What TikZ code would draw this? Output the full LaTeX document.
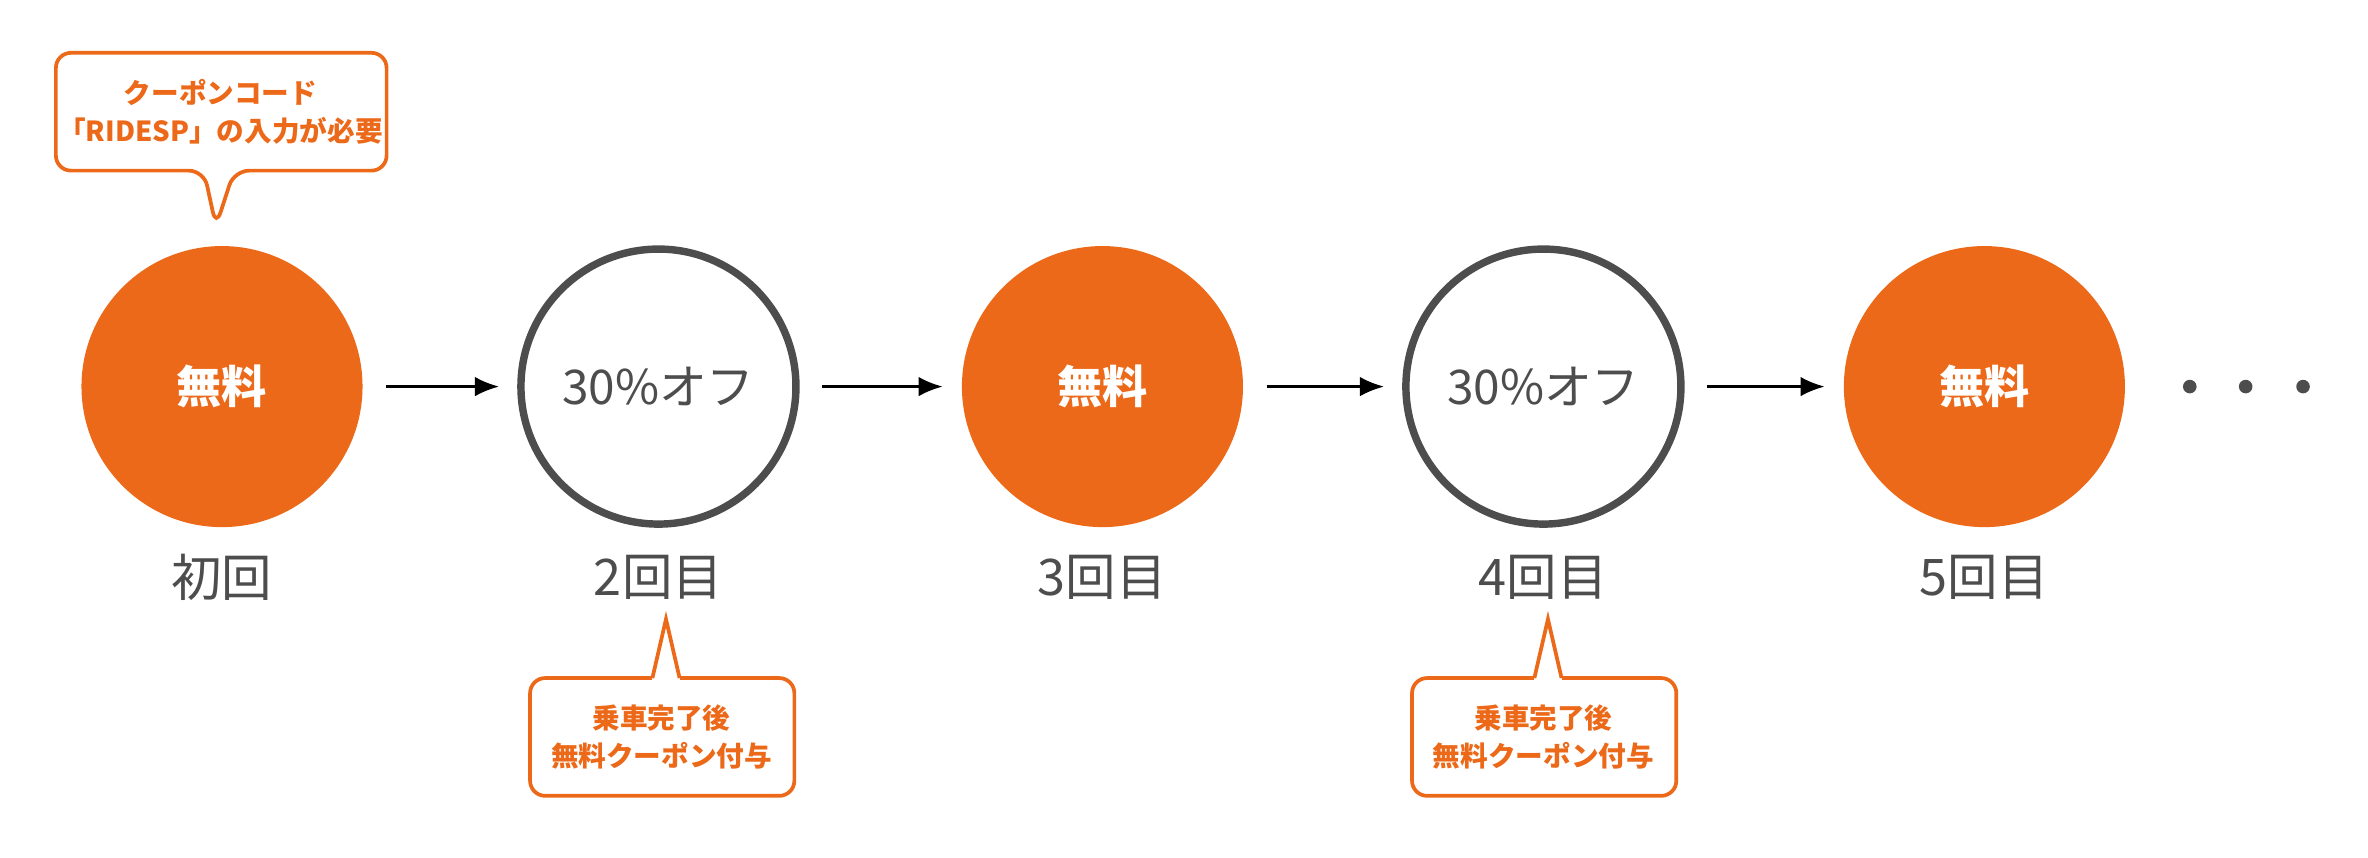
\documentclass[tikz,border=0pt]{standalone}
\usepackage{fontspec}
\setmainfont{Noto Sans CJK JP}
\usetikzlibrary{arrows.meta}
\definecolor{ridorange}{HTML}{EC6919}
\definecolor{ridgray}{HTML}{4D4D4D}
\tikzset{
  free/.style={circle, fill=ridorange, minimum size=1.86cm, text=white, font=\fontsize{8.5}{10}\selectfont\bfseries},
  off/.style={circle, draw=ridgray, line width=1.4pt, minimum size=1.82cm, text=ridgray, font=\fontsize{9}{10}\selectfont},
  ridelabel/.style={text=ridgray, font=\fontsize{9.5}{11}\selectfont},
  next/.style={-{Latex[length=1.6mm,width=1.3mm]}, line width=0.5pt},
  note/.style={text=ridorange, align=center, font=\fontsize{5.2}{7}\selectfont\bfseries},
  notebox/.style={draw=ridorange, fill=white, line width=0.7pt, rounded corners=1mm}
}
\begin{document}
\begin{tikzpicture}[x=0.01cm, y=-0.01cm]
\useasboundingbox (0,0) rectangle (1568,568);
% rides
\node[free] (r1) at (147,256) {無料};
\node[off]  (r2) at (436,256) {30\%オフ};
\node[free] (r3) at (730,256) {無料};
\node[off]  (r4) at (1022,256) {30\%オフ};
\node[free] (r5) at (1314,256) {無料};
\foreach \i/\t in {1/初回,2/2回目,3/3回目,4/4回目,5/5回目}
  \node[ridelabel] (l\i) at ([yshift=-1.26cm]r\i.center) {\t};
\foreach \a/\b in {r1/r2,r2/r3,r3/r4,r4/r5}
  \draw[next] ([xshift=0.15cm]\a.east) -- ([xshift=-0.12cm]\b.west);
\foreach \x [count=\k] in {1450,1487,1525}
  \fill[ridgray] (\x,256) circle (0.045cm) coordinate (d\k);
% callouts
\draw[notebox] (37,35) -- (256,35) -- (256,113) -- (155,113) -- (143,150)
  -- (135,113) -- (37,113) -- cycle;
\node[note] (n1) at (146,74) {クーポンコード\\「RIDESP」の入力が必要};
\foreach \x/\n in {438/n2,1022/n4}{
  \draw[notebox] (\x-87,449) -- (\x+88,449)
    -- (\x+88,527) -- (\x-87,527) -- cycle;
  \fill[white] (\x-6,452) rectangle (\x+12,447);
  \draw[ridorange, line width=0.7pt] (\x-6,449) -- (\x+3,410) -- (\x+12,449);
  \node[note] (\n) at (\x,488) {乗車完了後\\無料クーポン付与};
}
\end{tikzpicture}
\end{document}
